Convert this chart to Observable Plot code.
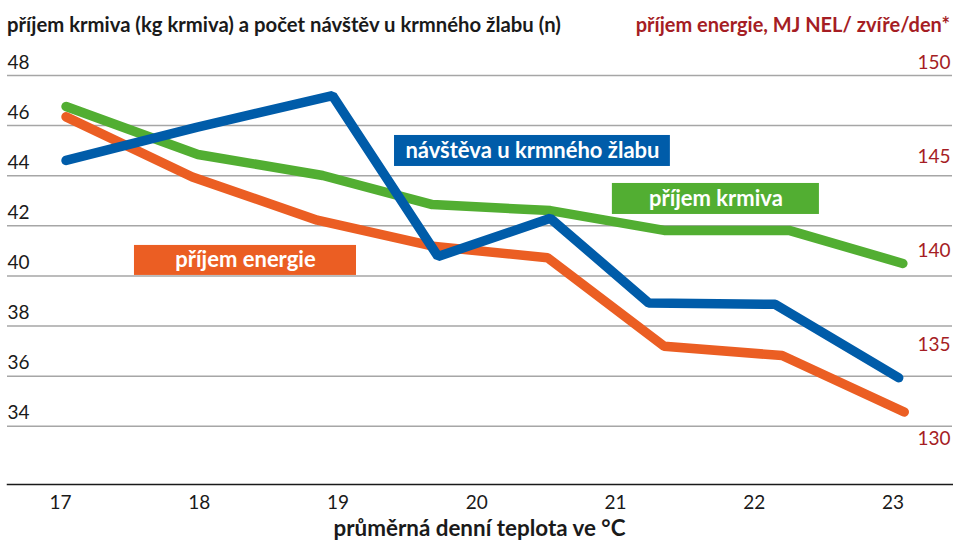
<!DOCTYPE html>
<html><head><meta charset="utf-8">
<script src="https://cdn.jsdelivr.net/npm/d3@7"></script>
<script src="https://cdn.jsdelivr.net/npm/@observablehq/plot@0.6"></script>
<style>
body{margin:0;background:#fff;font-family:Lato,"Open Sans",sans-serif;}
#wrap{position:relative;width:953px;height:541px;overflow:hidden;background:#fff}
#tl{position:absolute;left:7px;top:12px;font-weight:700;font-size:20.3px;line-height:24px;color:#1a1a1a;white-space:nowrap}
#tr{position:absolute;right:3px;top:12px;font-weight:700;font-size:20px;line-height:24px;color:#a51d24;white-space:nowrap}
#chart{position:absolute;left:0;top:45px}
#xl{position:absolute;left:3px;width:953px;text-align:center;top:517px;font-weight:700;font-size:22.4px;line-height:22px;color:#1a1a1a}
</style></head>
<body>
<div id="wrap">
  <div id="tl">příjem krmiva (kg krmiva) a počet návštěv u krmného žlabu (n)</div>
  <div id="tr">příjem energie, MJ NEL/ zvíře/den*</div>
  <div id="chart"></div>
  <div id="xl">průměrná denní teplota ve °C</div>
</div>
<script>
// ---- data ----
const tempsFeed    = [17.04, 17.99, 18.89, 19.68, 20.53, 21.35, 22.25, 23.07];
const feedIntake   = [46.76, 44.85, 44.01, 42.85, 42.61, 41.82, 41.82, 40.50];   // kg krmiva (left axis)
const tempsVisits  = [17.04, 17.98, 18.96, 19.72, 20.53, 21.24, 22.15, 23.04];
const visits       = [44.61, 45.93, 47.20, 40.78, 42.30, 38.92, 38.87, 35.94];   // návštěvy (left axis)
const tempsEnergy  = [17.04, 17.95, 18.85, 19.70, 20.51, 21.35, 22.20, 23.08];
const energyIntake = [147.8, 144.6, 142.3, 140.9, 140.3, 135.6, 135.1, 132.1];   // MJ NEL (right axis)

const xTicks = [17, 18, 19, 20, 21, 22, 23];
const leftTicks = [34, 36, 38, 40, 42, 44, 46, 48];
const rightTicks = [130, 135, 140, 145, 150];
const labelTexts = ["návštěva u krmného žlabu", "příjem krmiva", "příjem energie"];

// right axis (MJ) -> left axis (kg) : 150 <-> 48, 130 <-> 33
const toLeft = v => 48 - (150 - v) * 0.75;
const fromLeft = v => 150 - (48 - v) / 0.75;

const colors = {visits: "#005ca9", feed: "#52ae32", energy: "#eb5e23"};

const feedData = tempsFeed.map((t, i) => ({t, v: feedIntake[i]}));
const visitData = tempsVisits.map((t, i) => ({t, v: visits[i]}));
const energyData = tempsEnergy.map((t, i) => ({t, v: energyIntake[i]}));

// annotation layout (in data units)
const boxes = [
  {text: labelTexts[0], x1: 19.407, x2: 21.395, y1: 44.37, y2: 45.607, fill: colors.visits},
  {text: labelTexts[1], x1: 20.977, x2: 22.469, y1: 42.455, y2: 43.692, fill: colors.feed},
  {text: labelTexts[2], x1: 17.533, x2: 19.133, y1: 40.022, y2: 41.219, fill: colors.energy}
];

const lineOpts = {x: "t", strokeWidth: 9.5, strokeLinecap: "round", strokeLinejoin: "miter"};

const chart = Plot.plot({
  width: 953, height: 470,
  marginLeft: 7, marginRight: 1, marginTop: 30, marginBottom: 31,
  x: {domain: [16.618, 23.428]},
  y: {domain: [31.68, 48]},
  style: {fontFamily: "Lato, 'Open Sans', sans-serif", fontSize: "18px", color: "#1a1a1a", background: "#fff"},
  marks: [
    Plot.ruleY(leftTicks, {stroke: "#a6a6a6", strokeWidth: 1.5}),
    Plot.frame({anchor: "bottom", stroke: "#1a1a1a", strokeWidth: 1.5}),
    Plot.axisY(leftTicks, {anchor: "left", tickSize: 0, tickPadding: 0, textAnchor: "start", dy: -13, label: null, fontSize: 19}),
    Plot.axisY(rightTicks.map(toLeft), {anchor: "right", tickSize: 0, tickPadding: 0, textAnchor: "end", dx: -2, dy: -13, label: null, fontSize: 19,
      tickFormat: d => String(Math.round(fromLeft(d))), color: "#a51d24"}),
    Plot.axisX(xTicks, {anchor: "bottom", tickSize: 0, tickPadding: 11, label: null, fontSize: 19, tickFormat: d => String(d)}),
    Plot.line(feedData, {...lineOpts, y: "v", stroke: colors.feed}),
    Plot.line(energyData, {...lineOpts, y: d => toLeft(d.v), stroke: colors.energy}),
    Plot.line(visitData, {...lineOpts, y: "v", stroke: colors.visits}),
    Plot.rect(boxes, {x1: "x1", x2: "x2", y1: "y1", y2: "y2", fill: "fill"}),
    Plot.text(boxes, {x: d => (d.x1 + d.x2) / 2, y: d => (d.y1 + d.y2) / 2, text: "text", fill: "#fff", fontWeight: 700, fontSize: 22})
  ]
});
document.getElementById("chart").appendChild(chart);
</script>
</body></html>
